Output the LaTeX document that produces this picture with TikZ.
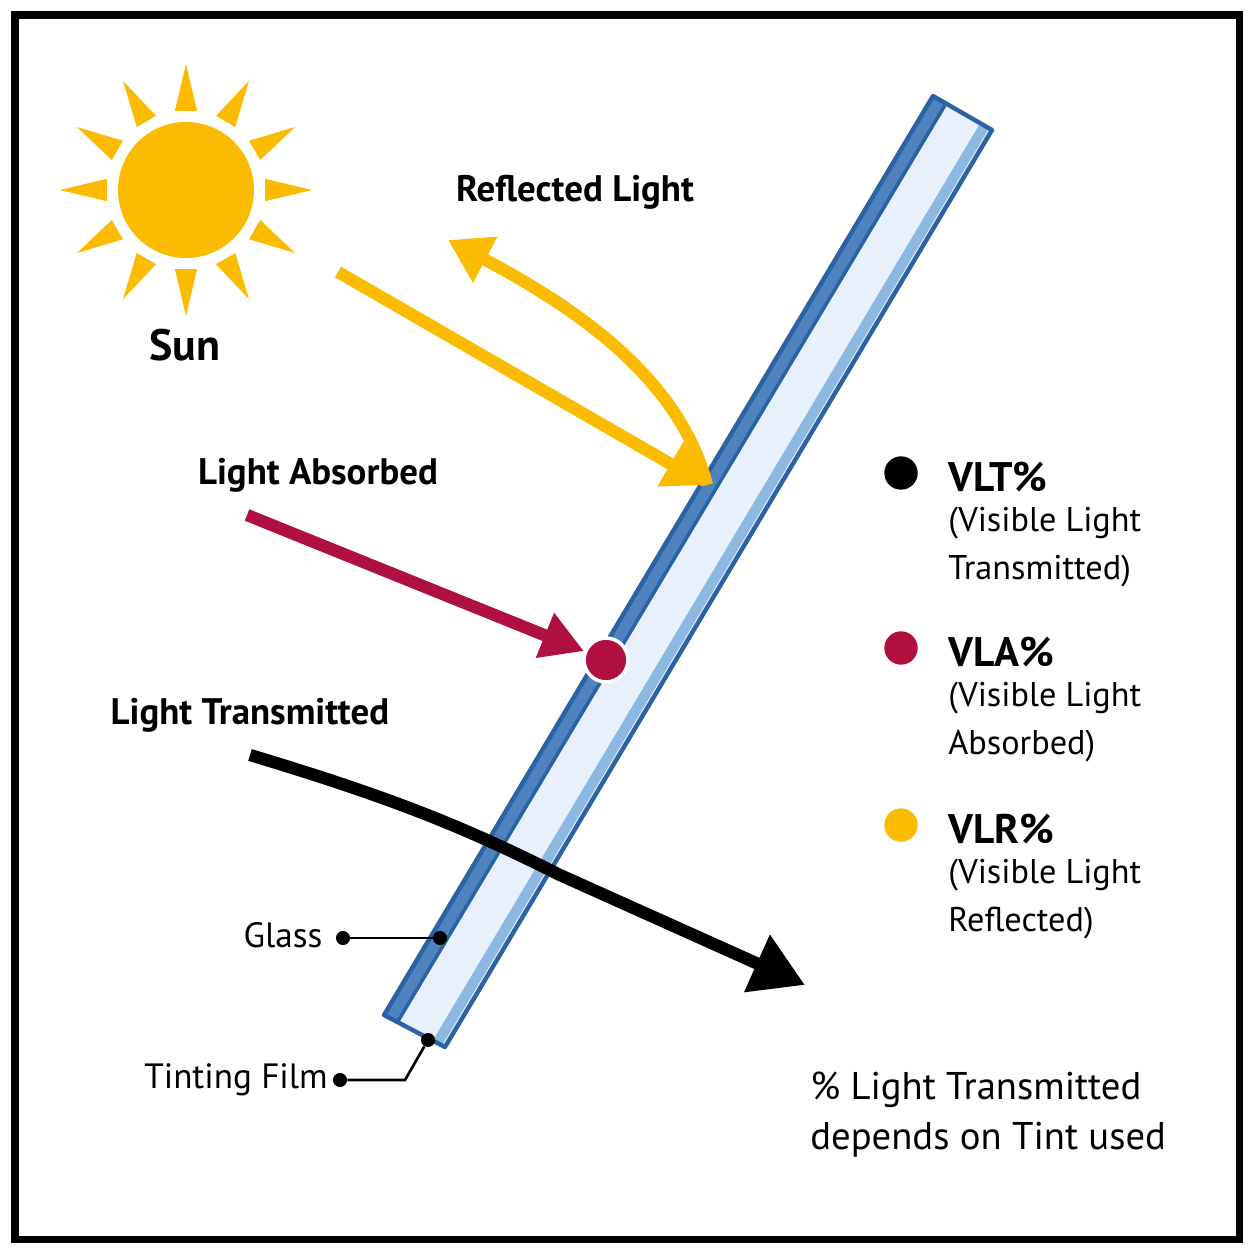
\documentclass[tikz,border=0pt]{standalone}
\usepackage{fontspec}
\setmainfont{PT Sans}
\usetikzlibrary{calc,arrows.meta}
\definecolor{sun}{HTML}{FBBB00}
\definecolor{crim}{HTML}{B0103F}
\definecolor{pane}{HTML}{2F6DB5}
\definecolor{panefill}{HTML}{E8F1FB}
\definecolor{paneright}{HTML}{8DB8E2}
\begin{document}
\begin{tikzpicture}[x=0.02cm,y=-0.02cm,
  lbl/.style={font=\fontsize{21}{26}\selectfont\bfseries, inner sep=0},
  big/.style={font=\fontsize{23.5}{28}\selectfont\bfseries, inner sep=0},
  sm/.style={font=\fontsize{20}{24}\selectfont, inner sep=0},
  leg/.style={font=\fontsize{19.5}{27}\selectfont, inner sep=0, align=left, anchor=north west},
  dotb/.style={circle, fill=black, inner sep=0, minimum size=8},
  ldot/.style={circle, inner sep=0, minimum size=19pt}]
\useasboundingbox (0,0) rectangle (1254,1254);
\draw[line width=4] (15,15) rectangle (1239,1239);
% pane
\coordinate (A) at (384,1015); \coordinate (B) at (933,96);
\coordinate (C) at (992,130); \coordinate (D) at (445,1047);
\fill[panefill] (A)--(B)--(C)--(D)--cycle;
\fill[pane!85] (A)--(B)--($(B)!0.22!(C)$)--($(A)!0.22!(D)$)--cycle;
\fill[paneright] ($(A)!0.8!(D)$)--($(B)!0.8!(C)$)--($(B)!0.95!(C)$)--($(A)!0.95!(D)$)--cycle;
\draw[pane!90!black, line width=2] ($(A)!0.22!(D)$)--($(B)!0.22!(C)$);
\draw[pane!90!black, line width=2.5, line join=round] (A)--(B)--(C)--(D)--cycle;
% sun
\coordinate (S) at (186,190);
\fill[sun] (S) circle (68);
\foreach \a in {0,30,...,330}{
  \fill[sun] ($(S)+(\a-8:80)$) -- ($(S)+(\a:126)$) -- ($(S)+(\a+8:80)$) -- cycle;}
\node[font=\fontsize{25}{30}\selectfont\bfseries, inner sep=0] (sunl) at (185,345) {Sun};
% reflected
\coordinate (r0) at (338,272); \coordinate (r1) at (707,485);
\draw[sun, line width=7, -{Triangle[length=24,width=28]}] (r0) -- (r1);
\coordinate (r2) at (448,240);
\draw[sun, line width=7, -{Triangle[length=24,width=28]}] (r1) .. controls (680,380) and (580,310) .. (r2);
\node[lbl] (refl) at (575,192) {Reflected Light};
% absorbed
\node[lbl] (abs) at (318,475) {Light Absorbed};
\node[ldot, fill=crim, draw=white, line width=2, minimum size=25pt] (ad) at (606,660) {};
\coordinate (a0) at (247,515);
\draw[crim, line width=7, -{Triangle[length=24,width=26]}] (a0) -- (ad);
% transmitted
\node[lbl] (tr) at (250,715) {Light Transmitted};
\coordinate (t0) at (250,755); \coordinate (t1) at (805,985);
\draw[black, line width=7, -{Triangle[length=30,width=34]}] (t0) .. controls (400,800) and (470,830) .. (560,875) -- (t1);
% labels
\node[sm] (gl) at (283,935) {Glass};
\node[dotb] (g0) at (343,938) {}; \node[dotb] (g1) at (440,938) {};
\draw[line width=1.5] (g0) -- (g1);
\node[sm] (tf) at (236,1080) {Tinting Film};
\node[dotb] (f0) at (340,1080) {}; \node[dotb] (f1) at (428,1040) {};
\draw[line width=1.5] (f0) -- (405,1080) -- (f1);
% legend
\node[ldot, fill=black] (l1) at (901,473) {};
\node[ldot, fill=crim] (l2) at (901,648) {};
\node[ldot, fill=sun] (l3) at (901,825) {};
\node[big, anchor=west] (v1) at (948,477) {VLT\%};
\node[big, anchor=west] (v2) at (948,652) {VLA\%};
\node[big, anchor=west] (v3) at (948,829) {VLR\%};
\node[leg] (d1) at (948,507) {(Visible Light\\Transmitted)};
\node[leg] (d2) at (948,682) {(Visible Light\\Absorbed)};
\node[leg] (d3) at (948,859) {(Visible Light\\Reflected)};
\node[font=\fontsize{22}{28}\selectfont, inner sep=0, align=left, anchor=north west] (note) at (810,1072) {\% Light Transmitted\\depends on Tint used};
\end{tikzpicture}
\end{document}
